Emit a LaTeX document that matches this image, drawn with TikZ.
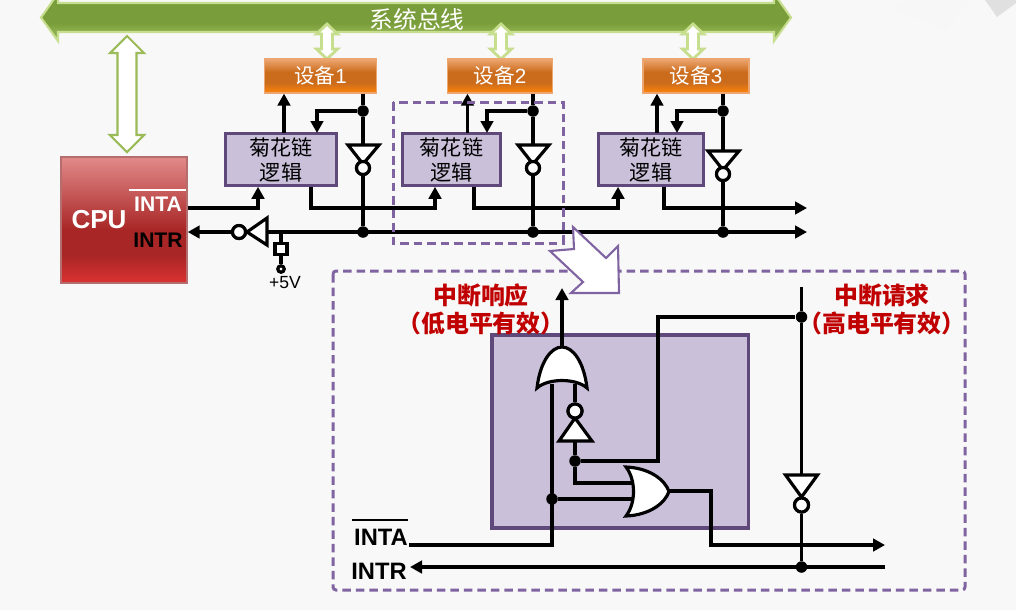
\documentclass[tikz,border=0pt]{standalone}
\usepackage{fontspec}
\setmainfont{Liberation Sans}
\newfontfamily\cjk{Noto Sans CJK SC}
\usetikzlibrary{arrows.meta}
\definecolor{pagebg}{HTML}{F8F8F8}
\definecolor{purpleline}{HTML}{8064A2}
\definecolor{purpledark}{HTML}{5F497A}
\definecolor{purplefill}{HTML}{CAC0DA}
\definecolor{greenline}{HTML}{9BBB59}
\definecolor{greenpale}{HTML}{C6DE8E}
\definecolor{busmid}{HTML}{799D3A}
\definecolor{buslow}{HTML}{8CAE4C}
\definecolor{redtext}{HTML}{C00000}
\definecolor{devtop}{HTML}{EDA672}
\definecolor{devmid}{HTML}{CB6C1C}
\definecolor{devlow}{HTML}{FF8408}
\definecolor{cputop}{HTML}{E28A8A}
\definecolor{cpumid}{HTML}{A92626}
\definecolor{cpulow}{HTML}{DC3232}
\pgfdeclareverticalshading{devshade}{100bp}{color(0bp)=(devlow); color(25bp)=(devlow); color(40bp)=(devmid); color(56bp)=(devmid); color(75bp)=(devtop); color(100bp)=(devtop)}
\pgfdeclareverticalshading{cpushade}{100bp}{color(0bp)=(cpulow); color(25bp)=(cpulow); color(36bp)=(cpumid); color(46bp)=(cpumid); color(75bp)=(cputop); color(100bp)=(cputop)}
\pgfdeclareverticalshading{busshade}{100bp}{color(0bp)=(buslow); color(36bp)=(buslow); color(44bp)=(busmid); color(100bp)=(busmid)}
\def\linkarrow[#1](#2,#3:#4)(#5,#6,#7){\draw[#1] (#2,#3) -- ({#2+#5},{#3+#6}) -- ({#2+#7},{#3+#6}) -- ({#2+#7},{#4-#6}) -- ({#2+#5},{#4-#6}) -- (#2,#4) -- ({#2-#5},{#4-#6}) -- ({#2-#7},{#4-#6}) -- ({#2-#7},{#3+#6}) -- ({#2-#5},{#3+#6}) -- cycle;}
\tikzset{
	wire/.style={line width=1.8pt,black},
	wirearrow/.style={wire,-{Triangle[length=0.24cm,width=0.25cm]}},
	gate/.style={line width=1.8pt,black,fill=white,line join=miter},
	bubble/.style={circle,draw=black,line width=1.8pt,fill=white,minimum size=0.26cm,inner sep=0pt},
	jdot/.style={circle,fill=black,minimum size=0.23cm,inner sep=0pt},
	logicbox/.style={draw=purpledark,line width=1.5pt,fill=purplefill,minimum height=1.04cm,inner sep=0pt,align=center,font=\cjk\fontsize{12}{14.2}\selectfont},
	devbox/.style={draw=devtop,line width=0.7pt,shading=devshade,minimum height=0.68cm,inner sep=0pt,text=white,font=\fontsize{11.7}{14}\selectfont},
	dashbox/.style={draw=purpleline,line width=1.7pt,dash pattern=on 0.17cm off 0.1cm},
	redlabel/.style={text=redtext,align=center,font=\cjk\bfseries\fontsize{13.6}{16}\selectfont},
	pinlabel/.style={font=\bfseries\fontsize{13.5}{15}\selectfont},
}
\begin{document}
\begin{tikzpicture}[x=0.02cm,y=-0.02cm]
	%%%%% START %%%%%
	\useasboundingbox (0,0) rectangle (1016,610);
	\clip (0,0) rectangle (1016,610);
	\fill[pagebg] (0,0) rectangle (1016,610);
	\fill[black!3] (893,8) -- (945,30) -- (970,0) -- (905,0) -- cycle;
	\fill[black!12] (985,0) -- (997,17) -- (1016,3) -- (1016,0) -- cycle;
	
	% system bus
	\draw[greenpale,line width=1.2pt,shading=busshade] (41,17.5) -- (58,-6.5) -- (58,3) -- (774,3) -- (774,-6.5) -- (791,17.5) -- (774,41) -- (774,32) -- (58,32) -- (58,41) -- cycle;
	\node[text=white,font=\cjk\fontsize{13.5}{16}\selectfont] (busLabel) at (417,19) {系统总线};
	\linkarrow[greenline,line width=1.2pt,fill=white](127,36:152)(17,17,9.5)
	\linkarrow[greenpale,line width=1.6pt,fill=white](327,24:59)(10.5,10,5.5)
	\linkarrow[greenpale,line width=1.6pt,fill=white](501,24:59)(10.5,10,5.5)
	\linkarrow[greenpale,line width=1.6pt,fill=white](693,24:59)(10.5,10,5.5)
	
	% boxes
	\node[draw=cputop!80!black,line width=0.8pt,shading=cpushade,minimum width=2.52cm,minimum height=2.52cm] (cpu) at (124,220) {};
	\node[text=white,font=\bfseries\fontsize{14.8}{16}\selectfont] (cpuLabel) at (99,220) {CPU};
	\node[text=white,font=\bfseries\fontsize{12}{14}\selectfont] (cpuInta) at (158,204) {INTA};
	\node[text=black,font=\bfseries\fontsize{12}{14}\selectfont] (cpuIntr) at (158,240) {INTR};
	\draw[white,line width=1.2pt] (129,190) -- (186,190);
	
	\node[devbox,minimum width=2.24cm] (devA) at (320.5,76) {{\cjk 设备}1};
	\node[devbox,minimum width=2.1cm] (devB) at (500,76) {{\cjk 设备}2};
	\node[devbox,minimum width=2.12cm] (devC) at (696,76) {{\cjk 设备}3};
	
	\node[logicbox,minimum width=2.22cm] (logicA) at (281,159.5) {菊花链\\逻辑};
	\node[logicbox,minimum width=1.96cm] (logicB) at (451.5,159.5) {菊花链\\逻辑};
	\node[logicbox,minimum width=2.1cm] (logicC) at (651,159.5) {菊花链\\逻辑};
	
	% upper wires
	\node[jdot] (tapA) at (363,111) {};
	\node[jdot] (tapB) at (533,111) {};
	\node[jdot] (tapC) at (723,111) {};
	\node[jdot] (reqA) at (363,232) {};
	\node[jdot] (reqB) at (533,232) {};
	\node[jdot] (reqC) at (723,232) {};
	\node[bubble] (notA) at (363,168) {};
	\node[bubble] (notB) at (533,168) {};
	\node[bubble] (notC) at (723,174) {};
	\node[bubble] (notR) at (239,232) {};
	
	\coordinate (ackA) at (284,133);
	\coordinate (ackB) at (467.5,133);
	\coordinate (ackC) at (657,133);
	\coordinate (inA) at (317,133);
	\coordinate (inB) at (487,133);
	\coordinate (inC) at (677,133);
	\draw[wirearrow] (ackA) -- (ackA |- devA.south);
	\draw[wirearrow] (ackB) -- (ackB |- devB.south);
	\draw[wirearrow] (ackC) -- (ackC |- devC.south);
	\draw[wirearrow] (tapA) -| (inA);
	\draw[wirearrow] (tapB) -| (inB);
	\draw[wirearrow] (tapC) -| (inC);
	\draw[wire] (devA.south -| tapA) -- (tapA) -- (notA) -- (reqA);
	\draw[wire] (devB.south -| tapB) -- (tapB) -- (notB) -- (reqB);
	\draw[wire] (devC.south -| tapC) -- (tapC) -- (notC) -- (reqC);
	
	\coordinate (kneeA) at (258,208);
	\coordinate (outA) at (311,208);
	\coordinate (kneeB) at (435,208);
	\coordinate (outB) at (474,208);
	\coordinate (kneeC) at (618,208);
	\coordinate (outC) at (664,208);
	\coordinate (ackEnd) at (807,208);
	\coordinate (reqEnd) at (807,232);
	\coordinate (reqStart) at (267,232);
	\draw[wirearrow] (cpu.east |- kneeA) -- (kneeA) -- (kneeA |- logicA.south);
	\draw[wirearrow] (logicA.south -| outA) -- (outA) -- (kneeB) -- (kneeB |- logicB.south);
	\draw[wirearrow] (logicB.south -| outB) -- (outB) -- (kneeC) -- (kneeC |- logicC.south);
	\draw[wirearrow] (logicC.south -| outC) -- (outC) -- (ackEnd);
	\draw[wirearrow] (reqStart) -- (reqEnd);
	\draw[wirearrow] (notR) -- (cpu.east |- notR);
	
	% inverters
	\draw[gate] (348,145) -- (379,145) -- (363,164) -- cycle;
	\draw[gate] (518,145) -- (549,145) -- (533,164) -- cycle;
	\draw[gate] (708,151) -- (739,151) -- (723,170) -- cycle;
	\draw[gate] (267,218) -- (267,245) -- (247,232) -- cycle;
	\node[bubble] at (notA) {};
	\node[bubble] at (notB) {};
	\node[bubble] at (notC) {};
	\node[bubble] at (notR) {};
	
	% pull up
	\coordinate (tapR) at (281,232);
	\node[draw=black,line width=1.8pt,fill=white,minimum width=0.24cm,minimum height=0.22cm,inner sep=0pt] (pullBox) at (281,249) {};
	\node[bubble,minimum size=0.13cm] (pullEnd) at (281,269) {};
	\draw[wire] (tapR) -- (pullBox) -- (pullEnd);
	\node[font=\fontsize{10}{12}\selectfont] (pullLabel) at (285,283) {+5V};
	
	% dashed frames
	\draw[dashbox] (393,102) rectangle (563,243);
	\draw[dashbox,rounded corners=0.06cm] (333,271) rectangle (965,590);
	\draw[purpleline,line width=1.2pt,fill=white,line join=miter] (573,227) -- (606,258) -- (618,246) -- (619,293) -- (571,293) -- (583,282) -- (550,251) -- (574,249) -- cycle;
	
	% detail
	\node[draw=purpledark,line width=2.2pt,fill=purplefill,minimum width=5.13cm,minimum height=3.86cm] (detailBox) at (620.3,431.5) {};
	\node[redlabel] (ackLabel) at (481,309) {中断响应\\（低电平有效）};
	\node[redlabel] (reqLabel) at (882,309) {中断请求\\（高电平有效）};
	\node[pinlabel] (intaLabel) at (381,537) {INTA};
	\node[pinlabel] (intrLabel) at (379,571) {INTR};
	\draw[black,line width=1.2pt] (352,520) -- (408,520);
	
	\node[jdot] (tapFb) at (552,499) {};
	\node[jdot] (tapSel) at (575,461) {};
	\node[jdot] (tapReq) at (801.5,317) {};
	\node[jdot] (tapLow) at (801.5,567) {};
	\node[bubble,minimum size=0.28cm] (notUp) at (575,411) {};
	\node[bubble,minimum size=0.28cm] (notDown) at (801.5,505) {};
	
	\coordinate (ackOut) at (562,347);
	\coordinate (ackTip) at (562,288);
	\coordinate (inaKnee) at (552,545);
	\coordinate (inaStart) at (409,545);
	\coordinate (inaTop) at (552,384);
	\coordinate (notTop) at (575,384);
	\coordinate (selKnee) at (575,483);
	\coordinate (selIn) at (634,483);
	\coordinate (fbIn) at (634,499);
	\coordinate (upKnee) at (658,461);
	\coordinate (reqKnee) at (658,317);
	\coordinate (reqTop) at (801.5,287);
	\coordinate (orOut) at (669,491);
	\coordinate (orKnee) at (711,491);
	\coordinate (lowKnee) at (711,545);
	\coordinate (lowTip) at (885,545);
	\coordinate (intrRight) at (885,567);
	\coordinate (intrTip) at (410,567);
	
	\draw[wirearrow] (ackOut) -- (ackTip);
	\draw[wire] (inaStart) -- (inaKnee) -- (inaTop);
	\draw[wire] (notTop) -- (notUp);
	\draw[wire] (notUp) -- (tapSel) -- (selKnee) -- (selIn);
	\draw[wire] (tapFb) -- (fbIn);
	\draw[wire] (tapSel) -- (upKnee) -- (reqKnee) -- (tapReq);
	\draw[wire] (reqTop) -- (tapReq) -- (notDown) -- (tapLow);
	\draw[wirearrow] (orOut) -- (orKnee) -- (lowKnee) -- (lowTip);
	\draw[wirearrow] (intrRight) -- (intrTip);
	
	% gates
	\draw[gate] (537,388) .. controls (540,362) and (551,347) .. (562,347) .. controls (573,347) and (584,362) .. (587,388) .. controls (576,378) and (548,378) .. (537,388) -- cycle;
	\draw[gate] (626,467) .. controls (650,468) and (665,480) .. (669,491.5) .. controls (665,503) and (650,515) .. (626,516) .. controls (636,503) and (636,480) .. (626,467) -- cycle;
	\draw[gate] (575,418) -- (592,441) -- (559,441) -- cycle;
	\draw[gate] (801.5,497) -- (817.5,475) -- (785.5,475) -- cycle;
	\node[bubble,minimum size=0.28cm] at (notUp) {};
	\node[bubble,minimum size=0.28cm] at (notDown) {};
	%%%%% END %%%%%
\end{tikzpicture}
\end{document}
